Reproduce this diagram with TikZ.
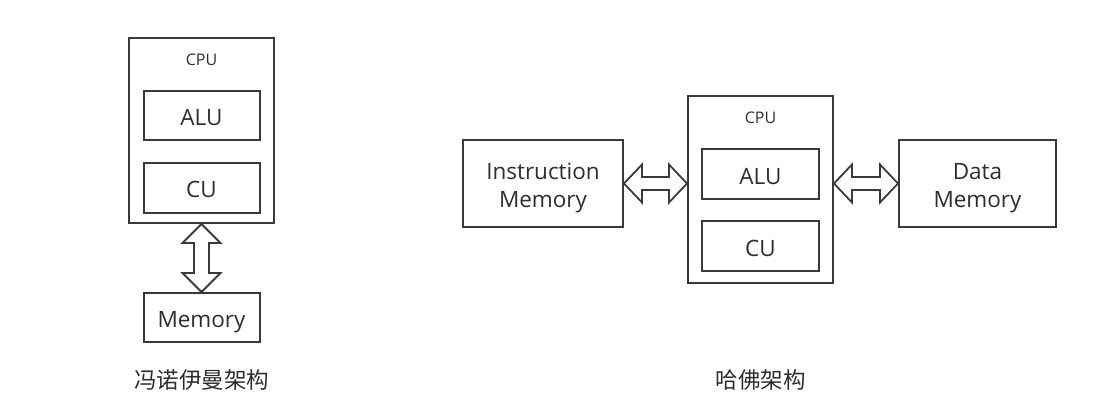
\documentclass[tikz,border=0pt]{standalone}
\usepackage{fontspec}
\setmainfont{Open Sans}
\newfontfamily\cjk{Noto Sans CJK SC}
\usetikzlibrary{calc}
\definecolor{ln}{HTML}{3A3A3A}
\definecolor{tx}{HTML}{2E2E2E}
\tikzset{
  box/.style={draw=ln, line width=2pt, fill=white, inner sep=0pt},
  bigtxt/.style={text=tx, inner sep=0pt, text height=16pt, text depth=0pt, font=\fontsize{22.5}{27}\selectfont},
  smalltxt/.style={text=tx, inner sep=0pt, text height=11.4pt, text depth=0pt, font=\fontsize{16}{19}\selectfont},
  captxt/.style={text=tx, font=\cjk\fontsize{22.5}{27}\selectfont},
  blockarrow/.style={draw=ln, line width=1.8pt, fill=white, line join=miter}
}
\begin{document}
\begin{tikzpicture}[x=1pt,y=-1pt]
\useasboundingbox (0,0) rectangle (1109,412);
% ---- von Neumann ----
\node[box, minimum width=145pt, minimum height=185pt] (lcpu) at (201.5,130.5) {};
\node[smalltxt] (lcput) at (201.5,60) {CPU};
\node[box, minimum width=116pt, minimum height=49pt] (lalu) at (201.5,115.5) {};
\node[bigtxt] (lalut) at (201.5,117) {ALU};
\node[box, minimum width=116pt, minimum height=50pt] (lcu) at (201.5,188) {};
\node[bigtxt] (lcut) at (201.5,189.5) {CU};
\node[box, minimum width=116pt, minimum height=49pt] (lmem) at (201.5,317.5) {};
\node[bigtxt] (lmemt) at (201.5,319.5) {Memory};
\node[captxt] (lcap) at (201.5,380) {冯诺伊曼架构};
\draw[blockarrow] (lcpu.south) -- ++(19,19) -- ++(-11.5,0) -- ($(lmem.north)+(7.5,-19)$) -- ++(11.5,0) -- (lmem.north)
  -- ++(-19,-19) -- ++(11.5,0) -- ($(lcpu.south)+(-7.5,19)$) -- ++(-11.5,0) -- cycle;
% ---- Harvard ----
\node[box, minimum width=145pt, minimum height=187pt] (rcpu) at (760.5,189.5) {};
\node[smalltxt] (rcput) at (760.5,118) {CPU};
\node[box, minimum width=117pt, minimum height=50pt] (ralu) at (760.5,174) {};
\node[bigtxt] (ralut) at (760.5,176) {ALU};
\node[box, minimum width=117pt, minimum height=50pt] (rcu) at (760.5,246) {};
\node[bigtxt] (rcut) at (760.5,248) {CU};
\node[box, minimum width=160pt, minimum height=87pt] (imem) at (543,183.5) {};
\node[bigtxt] (imemt1) at (543,171.5) {Instruction};
\node[bigtxt] (imemt2) at (543,199.5) {Memory};
\node[box, minimum width=157pt, minimum height=87pt] (dmem) at (977.5,183.5) {};
\node[bigtxt] (dmemt1) at (977.5,171.5) {Data};
\node[bigtxt] (dmemt2) at (977.5,199.5) {Memory};
\node[captxt] (rcap) at (760.5,380) {哈佛架构};
\coordinate (ia) at (imem.east -| rcpu.west);
\coordinate (da) at (dmem.west -| rcpu.east);
\draw[blockarrow] (imem.east) -- ++(18,-19) -- ++(0,12.5) -- ($(ia)+(-18,-6.5)$) -- ++(0,-12.5) -- (ia)
  -- ++(-18,19) -- ++(0,-12.5) -- ($(imem.east)+(18,6.5)$) -- ++(0,12.5) -- cycle;
\draw[blockarrow] (da) -- ++(18,-19) -- ++(0,12.5) -- ($(dmem.west)+(-18,-6.5)$) -- ++(0,-12.5) -- (dmem.west)
  -- ++(-18,19) -- ++(0,-12.5) -- ($(da)+(18,6.5)$) -- ++(0,12.5) -- cycle;
\end{tikzpicture}
\end{document}
